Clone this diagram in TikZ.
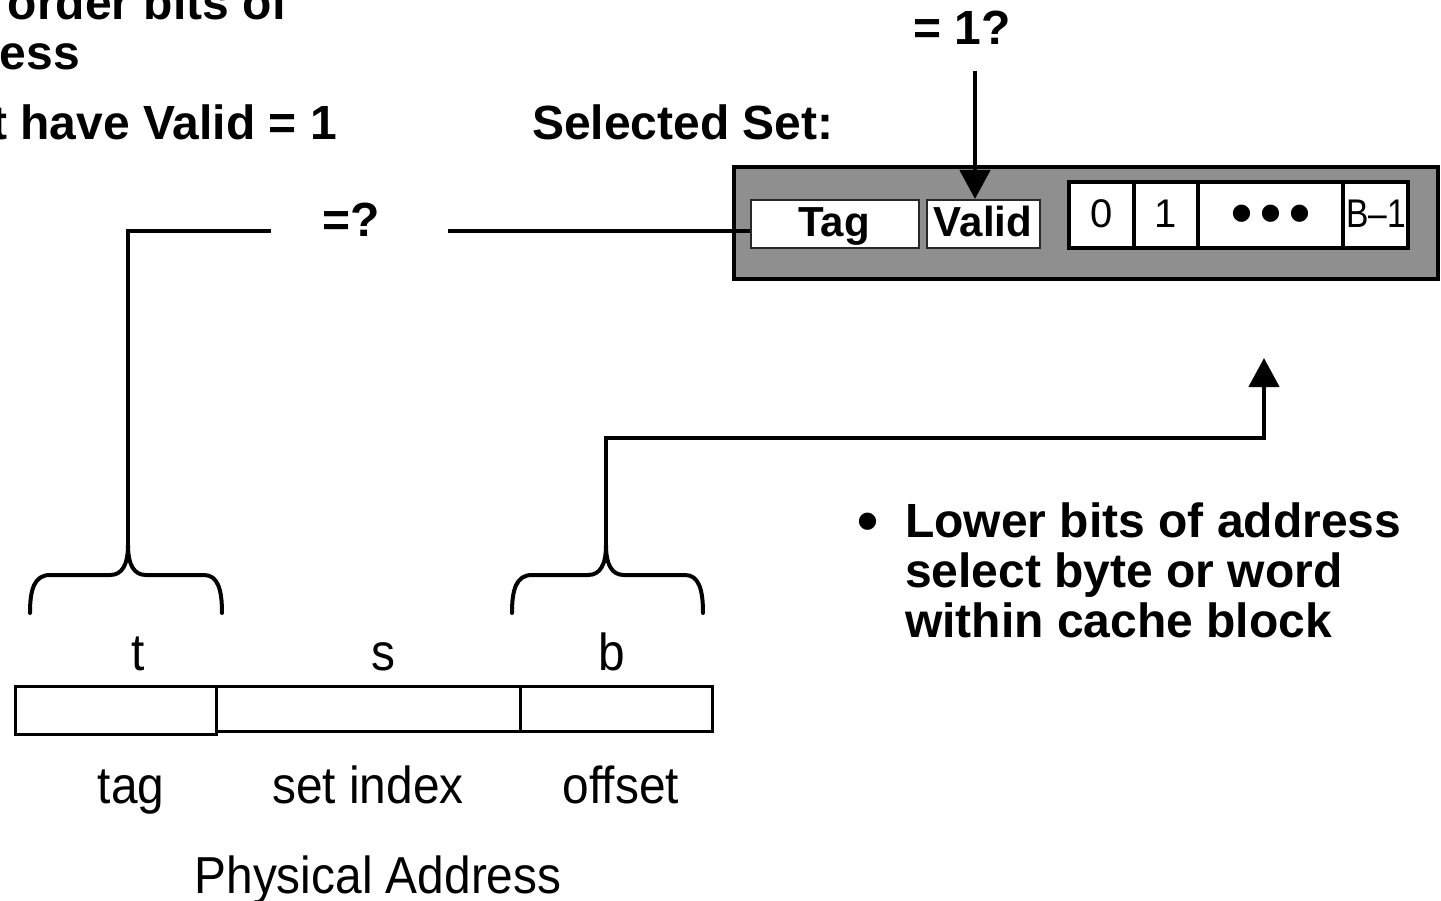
\documentclass[tikz,border=0pt]{standalone}
\usepackage{fontspec}
\setmainfont{Liberation Sans}
\newfontfamily\narrowfont[FakeStretch=0.92]{Liberation Sans}
\newfontfamily\cellfont[FakeStretch=0.84]{Liberation Sans}
\usetikzlibrary{arrows.meta}
\definecolor{setgray}{RGB}{143,143,143}
\definecolor{cellrule}{RGB}{40,40,40}
\tikzset{
  bigbold/.style={font=\fontsize{48}{50}\selectfont\bfseries, inner sep=0pt},
  fieldbold/.style={font=\fontsize{42}{44}\selectfont\bfseries, inner sep=0pt},
  cellnum/.style={font=\fontsize{40}{42}\selectfont, inner sep=0pt},
  lastcell/.style={font=\cellfont\fontsize{40}{42}\selectfont, inner sep=0pt},
  blockdot/.style={font=\fontsize{60}{62}\selectfont\bfseries, inner sep=0pt},
  plain/.style={font=\narrowfont\fontsize{52}{54}\selectfont, inner sep=0pt},
  wire/.style={line width=4.5pt},
  bracestroke/.style={line width=4pt, line cap=round, line join=round},
  headarrow/.style={wire, -{Triangle[width=30pt,length=29pt]}},
  fieldbox/.style={draw=cellrule, line width=2pt, fill=white},
  addrbox/.style={draw=black, line width=3pt, fill=white},
}
\begin{document}
\begin{tikzpicture}[x=1pt,y=-1pt]
\useasboundingbox (0,0) rectangle (1441,901);
\clip (0,0) rectangle (1441,901);

% bullet text running in from the left margin
\node[bigbold, anchor=base east] (l1) at (288,20) {order bits of};
\node[bigbold, anchor=base east] (l2) at (80,70) {address};
\node[bigbold, anchor=base east] (l3) at (337,140) {Must have Valid = 1};

% selected set heading and the valid check label
\node[bigbold, anchor=base west] (sel) at (532,140) {Selected Set:};
\node[bigbold, anchor=base] (one) at (962,45) {= 1?};

% the cache line of the selected set
\fill[setgray] (734,167) rectangle (1438,279);
\draw[line width=4pt] (734,167) rectangle (1438,279);
\node[fieldbox, minimum width=168pt, minimum height=48pt, anchor=north west] (tag) at (750,199) {};
\node[fieldbold, anchor=base] at (834,237) {Tag};
\node[fieldbox, minimum width=113pt, minimum height=48pt, anchor=north west] (valid) at (926,199) {};
\node[fieldbold, anchor=base] at (983,237) {Valid};

% data block: bytes 0 .. B-1
\fill[white] (1069,182) rectangle (1408,248);
\draw[line width=4pt] (1069,182) rectangle (1408,248);
\draw[line width=4pt] (1134,182) -- (1134,248) (1198,182) -- (1198,248) (1343,182) -- (1343,248);
\node[cellnum, anchor=base] (b0) at (1102,228) {0};
\node[cellnum, anchor=base] (b1) at (1166,228) {1};
\node[blockdot, anchor=base] (d1) at (1242,234) {•};
\node[blockdot, anchor=base] (d2) at (1271,234) {•};
\node[blockdot, anchor=base] (d3) at (1300,234) {•};
\node[lastcell, anchor=base east] (blast) at (1406,228) {B–1};

% valid check arrow
\coordinate (oneBelow) at (975,71);
\coordinate (validTop) at (975,199);
\draw[headarrow] (oneBelow) -- (validTop);

% tag comparison
\node[bigbold, anchor=base] (eq) at (351,237) {=?};
\coordinate (eqL) at (271,231);
\coordinate (eqR) at (448,231);
\coordinate (tagUp) at (128,545);
\draw[wire] (tag.west |- eqR) -- (eqR);
\draw[wire] (tagUp) -- (128,231) -- (eqL);

% braces over the tag and offset fields
\draw[bracestroke] (30,613) .. controls (30,590) and (34,575) .. (50,575)
  -- (110,575) .. controls (122,575) and (128,565) .. (128,545)
  .. controls (128,565) and (134,575) .. (146,575)
  -- (204,575) .. controls (218,575) and (222,590) .. (222,613);
\draw[bracestroke] (512,613) .. controls (512,590) and (516,575) .. (532,575)
  -- (588,575) .. controls (600,575) and (606,565) .. (606,545)
  .. controls (606,565) and (612,575) .. (624,575)
  -- (685,575) .. controls (699,575) and (703,590) .. (703,613);

% offset selects the byte within the block
\coordinate (offUp) at (606,545);
\coordinate (blockBelow) at (1264,358);
\draw[headarrow] (offUp) -- (606,438) -- (1264,438) -- (blockBelow);

% lower-bits note
\node[blockdot, anchor=base west] (dot) at (857,541) {•};
\node[bigbold, anchor=base west] (note) at (905,537) {Lower bits of address};
\node[bigbold, anchor=base west] (note2) at (905,587) {select byte or word};
\node[bigbold, anchor=base west] (note3) at (905,637) {within cache block};

% physical address fields
\node[plain, anchor=base] (lt) at (138,670) {t};
\node[plain, anchor=base] (ls) at (383,670) {s};
\node[plain, anchor=base] (lb) at (612,670) {b};
\node[addrbox, minimum width=201pt, minimum height=48pt, anchor=north west] (ftag) at (14,685) {};
\node[addrbox, minimum width=304pt, minimum height=45pt, anchor=north west] (fset) at (215,685) {};
\node[addrbox, minimum width=192pt, minimum height=45pt, anchor=north west] (foff) at (519,685) {};
\node[plain, anchor=base] (ntag) at (131,803) {tag};
\node[plain, anchor=base] (nset) at (368,803) {set index};
\node[plain, anchor=base] (noff) at (621,803) {offset};
\node[plain, anchor=base] (pa) at (378,893) {Physical Address};
\end{tikzpicture}
\end{document}
